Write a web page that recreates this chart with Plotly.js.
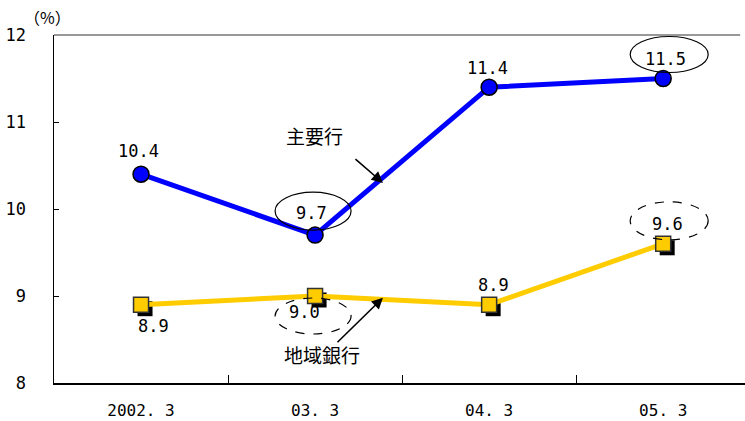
<!DOCTYPE html>
<html>
<head>
<meta charset="utf-8">
<script src="https://cdn.plot.ly/plotly-3.0.1.min.js"></script>
<style>
  html, body { margin: 0; padding: 0; background: #fff; }
  #chart { width: 745px; height: 421px; }
</style>
</head>
<body>
<div id="chart"></div>
<script>
// Fiscal year-end periods
const periods = ['2002. 3', '03. 3', '04. 3', '05. 3'];
// 主要行 (major banks), %
const majorBanks = [10.4, 9.7, 11.4, 11.5];
// 地域銀行 (regional banks), %
const regionalBanks = [8.9, 9.0, 8.9, 9.6];
const yTicks = [8, 9, 10, 11, 12];

const NUM_FONT = 'DejaVu Sans Mono, Liberation Mono, monospace';
const JP_FONT = 'Noto Sans CJK JP, sans-serif';

const xRange = [-0.5, 3.47];
const yRange = [8, 12];
// shadow axes: same scale, shifted 4px right / 4px down
const pxPerCat = 691 / (xRange[1] - xRange[0]);
const pxPerUnit = 348 / (yRange[1] - yRange[0]);
const sx = 4 / pxPerCat, sy = 4 / pxPerUnit;

const traces = [
  // drop shadow of the square markers
  {
    x: periods, y: regionalBanks, xaxis: 'x2', yaxis: 'y2',
    mode: 'markers', hoverinfo: 'skip',
    marker: { symbol: 'square', size: 15, color: '#000', line: { width: 0 } }
  },
  {
    x: periods, y: regionalBanks, xaxis: 'x3', yaxis: 'y3', mode: 'lines+markers', name: '地域銀行',
    line: { color: '#FFCC00', width: 5 },
    marker: { symbol: 'square', size: 15, color: '#FFCC00', line: { color: '#333', width: 1.5 } }
  },
  {
    x: periods, y: majorBanks, xaxis: 'x3', yaxis: 'y3', mode: 'lines+markers', name: '主要行',
    line: { color: '#0000FF', width: 5 },
    marker: { symbol: 'circle', size: 16, color: '#0000FF', line: { color: '#000', width: 1.5 } }
  }
];

// value labels: [series, index, xshift, yshift]
const labelSpec = [
  [majorBanks, 0, -3, 23], [majorBanks, 1, -4, 22], [majorBanks, 2, -2, 19], [majorBanks, 3, 2, 20],
  [regionalBanks, 0, 12, -21], [regionalBanks, 1, -11, -16], [regionalBanks, 2, 4, 20], [regionalBanks, 3, 4, 20]
];
const annotations = labelSpec.map(([s, i, dx, dy]) => ({
  x: i, y: s[i], xref: 'x', yref: 'y', text: s[i].toFixed(1), showarrow: false,
  xshift: dx, yshift: dy, font: { family: NUM_FONT, size: 17, color: '#000' }
}));

annotations.push(
  { xref: 'paper', yref: 'paper', x: -0.010, y: 1.0, xanchor: 'center', yanchor: 'middle', yshift: 18,
    text: '（%）', showarrow: false, font: { family: JP_FONT, size: 16, color: '#000' } },
  { x: 0.994, y: 10.84, xref: 'x', yref: 'y', text: '主要行', showarrow: false,
    font: { family: JP_FONT, size: 19, color: '#000' } },
  { x: 1.04, y: 8.33, xref: 'x', yref: 'y', text: '地域銀行', showarrow: false,
    font: { family: JP_FONT, size: 19, color: '#000' } },
  { x: 1.39, y: 10.30, xref: 'x', yref: 'y', text: '', showarrow: true, ax: -29, ay: -25,
    arrowhead: 2, arrowsize: 1.4, arrowwidth: 1.6, arrowcolor: '#000', standoff: 0 },
  { x: 1.39, y: 8.98, xref: 'x', yref: 'y', text: '', showarrow: true, ax: -47, ay: 46,
    arrowhead: 2, arrowsize: 1.4, arrowwidth: 1.6, arrowcolor: '#000', standoff: 0 }
);

// ellipses around highlighted values: [series, index, dx, dy(up), rx, ry, dash]
const ringSpec = [
  [majorBanks, 1, -2, 24, 38, 19, 'solid'],
  [majorBanks, 3, 6, 24, 39, 18, 'solid'],
  [regionalBanks, 1, -2, -20, 38, 18, 'dash'],
  [regionalBanks, 3, 6, 23, 39, 19, 'dash']
];
const shapes = ringSpec.map(([s, i, dx, dy, rx, ry, dash]) => ({
  type: 'circle', xref: 'x', yref: 'y', xsizemode: 'pixel', ysizemode: 'pixel',
  xanchor: i, yanchor: s[i],
  x0: dx - rx, x1: dx + rx, y0: dy - ry, y1: dy + ry,
  line: { color: '#000', width: 1.2, dash: dash }, fillcolor: 'rgba(0,0,0,0)', layer: 'above'
}));
// gray top border of the plot area
shapes.push({ type: 'line', xref: 'paper', yref: 'paper', x0: 0, x1: 0.993, y0: 1, y1: 1,
  line: { color: '#999', width: 2 }, layer: 'below' });

const hiddenX = (r) => ({ type: 'category', categoryarray: periods, range: r, overlaying: 'x',
  visible: false, fixedrange: true });
const hiddenY = (r) => ({ range: r, overlaying: 'y', visible: false, fixedrange: true });

const layout = {
  width: 745, height: 421,
  margin: { l: 54, r: 0, t: 35, b: 35 },
  paper_bgcolor: '#fff', plot_bgcolor: '#fff',
  showlegend: false,
  xaxis: {
    type: 'category', categoryarray: periods, range: xRange, domain: [0, 1],
    tickson: 'boundaries', ticks: 'inside', ticklen: 8, tickwidth: 1, tickcolor: '#000',
    showgrid: false, zeroline: false,
    showline: true, linecolor: '#000', linewidth: 1.5,
    tickfont: { family: NUM_FONT, size: 16, color: '#000' },
    ticklabelstandoff: 12
  },
  yaxis: {
    range: yRange, domain: [3 / 351, 1], tickvals: yTicks, showgrid: false, zeroline: false,
    showline: true, linecolor: '#000', linewidth: 1.5,
    ticks: 'inside', ticklen: 5, tickcolor: '#000', tickwidth: 1,
    tickfont: { family: NUM_FONT, size: 17, color: '#000' },
    ticklabelstandoff: 23
  },
  xaxis2: hiddenX([xRange[0] - sx, xRange[1] - sx]),
  yaxis2: hiddenY([yRange[0] + sy, yRange[1] + sy]),
  xaxis3: hiddenX(xRange),
  yaxis3: hiddenY(yRange),
  annotations: annotations,
  shapes: shapes
};

// main subplot carries the axes only
traces.unshift({ x: periods, y: [null, null, null, null], mode: 'markers', hoverinfo: 'skip' });

Plotly.newPlot('chart', traces, layout, { displayModeBar: false, staticPlot: true });
</script>
</body>
</html>
